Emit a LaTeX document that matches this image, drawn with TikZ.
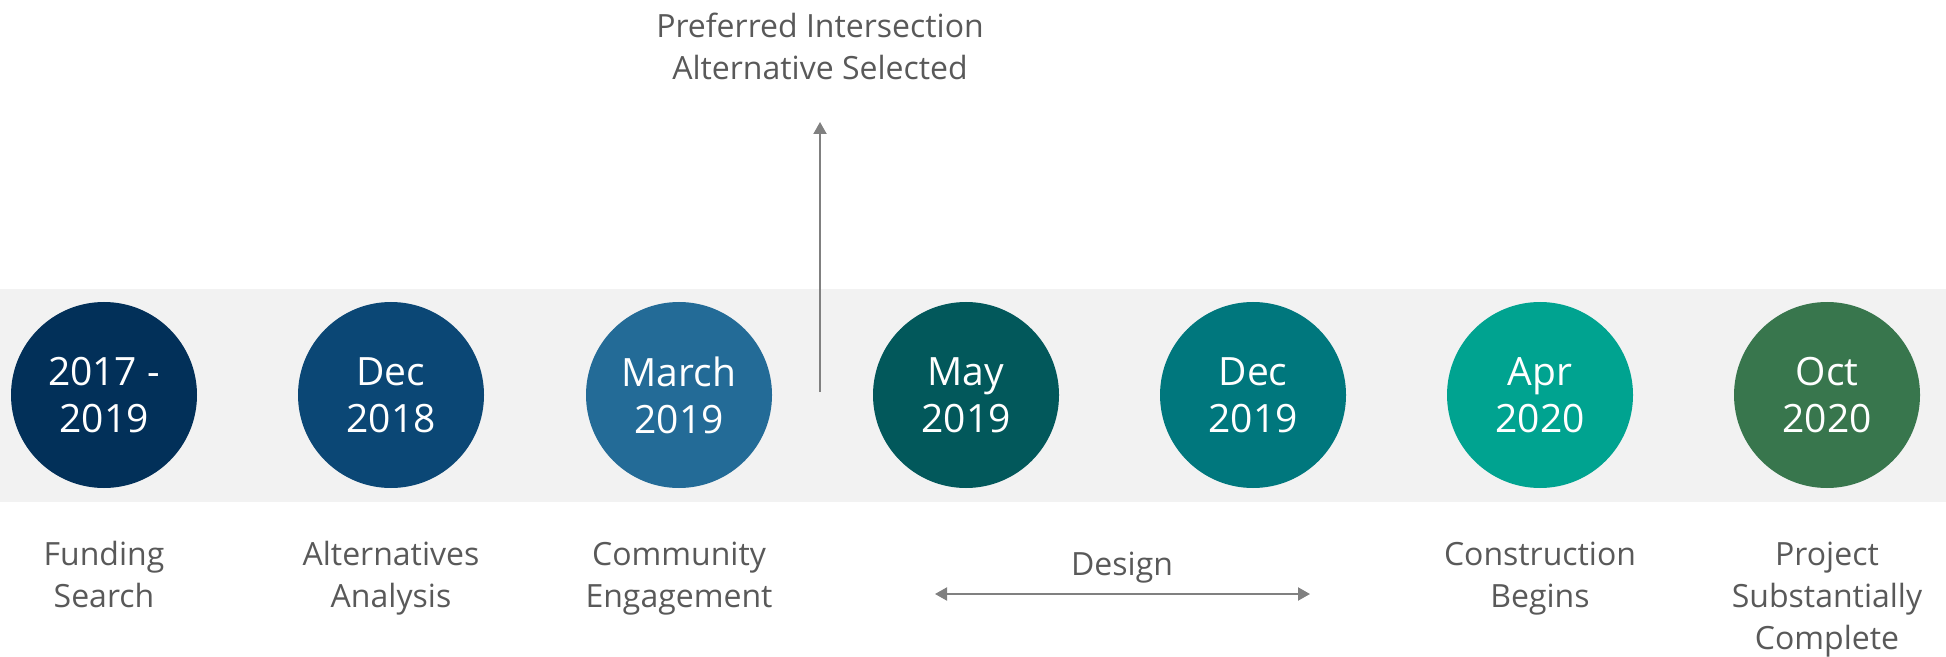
\documentclass[tikz,border=0pt]{standalone}
\usepackage{fontspec}
\setmainfont{Open Sans}
\usetikzlibrary{arrows.meta}
\definecolor{bandgray}{HTML}{F2F2F2}
\definecolor{txtgray}{HTML}{595959}
\definecolor{arrgray}{HTML}{808080}
\definecolor{cA}{HTML}{023059}
\definecolor{cB}{HTML}{0B4775}
\definecolor{cC}{HTML}{236B97}
\definecolor{cD}{HTML}{02585B}
\definecolor{cE}{HTML}{00777D}
\definecolor{cF}{HTML}{00A390}
\definecolor{cG}{HTML}{38764D}
\begin{document}
\begin{tikzpicture}[x=0.5pt,y=-0.5pt,
  dot/.style={circle,inner sep=0pt,minimum size=93pt,text=white,align=center,font=\fontsize{19.5}{23.5}\selectfont},
  lbl/.style={text=txtgray,align=center,anchor=base,inner sep=0pt,font=\fontsize{16}{21}\selectfont},
  conn/.style={arrgray,line width=1pt,-{Triangle[width=6.5pt,length=6pt]}}]
\useasboundingbox (0,0) rectangle (1946,657);
% band behind the dates
\fill[bandgray] (0,289) rectangle (1946,502);
% milestones
\node[dot,fill=cA] (fund) at (104,395) {2017 -\\2019};
\node[dot,fill=cB] (alt) at (391,395) {Dec\\2018};
\node[dot,fill=cC] (comm) at (679,395) {March\\2019};
\node[dot,fill=cD] (dsgA) at (966,395) {May\\2019};
\node[dot,fill=cE] (dsgB) at (1253,395) {Dec\\2019};
\node[dot,fill=cF] (cons) at (1540,395) {Apr\\2020};
\node[dot,fill=cG] (proj) at (1827,395) {Oct\\2020};
% phase labels (anchored on last line)
\node[lbl] (fundL) at (104,607) {Funding\\Search};
\node[lbl] (altL) at (391,607) {Alternatives\\Analysis};
\node[lbl] (commL) at (679,607) {Community\\Engagement};
\node[lbl] (consL) at (1540,607) {Construction\\Begins};
\node[lbl] (projL) at (1827,649) {Project\\Substantially\\Complete};
% selection marker
\node[lbl] (pref) at (820,80) {Preferred Intersection\\Alternative Selected};
\coordinate (selBase) at (820,392);
\coordinate (selTip) at (820,122);
\draw[conn] (selBase) -- (selTip);
% design span
\coordinate (dsgL) at (935,594);
\coordinate (dsgR) at (1310,594);
\draw[conn,{Triangle[width=6.5pt,length=6pt]}-{Triangle[width=6.5pt,length=6pt]}] (dsgL) -- (dsgR);
\node[lbl] (dsg) at (1122,575) {Design};
\end{tikzpicture}
\end{document}
